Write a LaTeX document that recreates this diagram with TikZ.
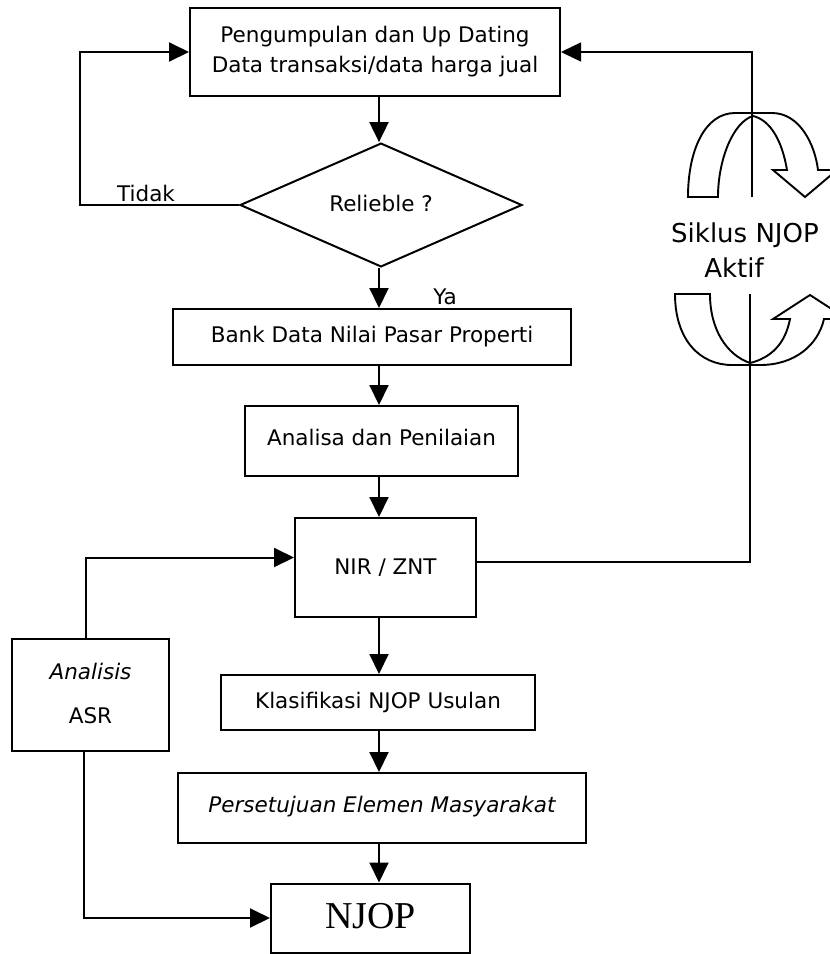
\documentclass[tikz,border=0pt]{standalone}
\usepackage{fontspec}
\setmainfont{DejaVu Sans}
\newfontfamily\njopfont{Liberation Serif}
\usetikzlibrary{arrows.meta,shapes.geometric}

\tikzset{
  box/.style={draw, line width=2pt, rectangle, inner sep=0pt, align=center,
              font=\fontsize{21.5}{30}\selectfont},
  decision/.style={draw, line width=2pt, diamond, inner sep=0pt,
              font=\fontsize{21.5}{30}\selectfont},
  arr/.style={line width=2pt, -{Triangle[length=20pt,width=19pt]}},
  thin link/.style={line width=1.4pt},
  cyclearrow/.style={line width=1.9pt, line join=miter},
  lbl/.style={inner sep=0pt, font=\fontsize{21.5}{26}\selectfont}
}

\begin{document}
\begin{tikzpicture}[x=1pt,y=-1pt]
\useasboundingbox (0,0) rectangle (830,954);

% main column of the flow
\coordinate (col) at (379,0);

\node[box, minimum width=370pt, minimum height=88pt] (collect) at (375,52)
  {Pengumpulan dan Up Dating\\Data transaksi/data harga jual};
\node[decision, minimum width=282pt, minimum height=118pt] (reliable) at (381,205)
  {\raisebox{4pt}{Relieble ?}};
\node[box, minimum width=398pt, minimum height=56pt] (bank) at (372,337)
  {Bank Data Nilai Pasar Properti};
\node[box, minimum width=273pt, minimum height=70pt] (analysis) at (381.5,441)
  {\raisebox{8pt}{Analisa dan Penilaian}};
\node[box, minimum width=181pt, minimum height=99pt] (nir) at (385.5,567.5)
  {\raisebox{-5pt}{NIR / ZNT}};
\node[box, minimum width=157pt, minimum height=112pt] (asr) at (90.5,695)
  {\raisebox{8pt}{\begin{tabular}{@{}c@{}}\itshape Analisis\\[14pt] ASR\end{tabular}}};
\node[box, minimum width=314pt, minimum height=55pt] (klas) at (378,702.5)
  {\raisebox{2pt}{Klasifikasi NJOP Usulan}};
\node[box, minimum width=408pt, minimum height=70pt] (agree) at (382,808)
  {\raisebox{8pt}{\itshape Persetujuan Elemen Masyarakat}};
\node[box, minimum width=199pt, minimum height=69pt, font=\njopfont\fontsize{38}{40}\selectfont]
  (njop) at (370.5,918) {\raisebox{5pt}{NJOP}};

% downward flow
\draw[arr] (collect.south -| col) -- (reliable.north -| col);
\draw[arr] (reliable.south -| col) -- (bank.north -| col);
\draw[arr] (bank.south -| col) -- (analysis.north -| col);
\draw[arr] (analysis.south -| col) -- (nir.north -| col);
\draw[arr] (nir.south -| col) -- (klas.north -| col);
\draw[arr] (klas.south -| col) -- (agree.north -| col);
\draw[arr] (agree.south -| col) -- (njop.north -| col);

% "Tidak" loop back to data collection
\coordinate (back) at (80,0);
\draw[arr] (reliable.west) -- (reliable.west -| back) |- (collect.west);
\node[lbl] (no) at (146,193) {Tidak};
\node[lbl] (yes) at (445,297) {Ya};

% ASR inputs
\coordinate (nirin) at ([yshift=10pt]nir.west);
\draw[arr] ([xshift=-4.5pt]asr.north) |- (nirin);
\draw[arr] ([xshift=-6.5pt]asr.south) |- (njop.west);

% active NJOP cycle on the right
\coordinate (cyclow) at (750,294);
\coordinate (cychigh) at (752,197);
\draw[thin link] ([yshift=5.5pt]nir.east) -| (cyclow);
\draw[thin link, -{Triangle[length=20pt,width=19pt]}] (cychigh) |- (collect.east);

% upper curved arrow
\draw[cyclearrow] (688,197) .. controls (688,150) and (705,113) .. (735,113)
  -- (772,113) .. controls (800,113) and (815,145) .. (818,170)
  -- (837,170) -- (805,197) -- (773,170) -- (787,170)
  .. controls (782,140) and (770,120) .. (753,116)
  .. controls (733,122) and (718,160) .. (718,197) -- cycle;

% lower curved arrow
\draw[cyclearrow] (675,294) .. controls (675,340) and (700,365) .. (732,365)
  -- (760,365) .. controls (795,365) and (818,345) .. (824,319)
  -- (847,319) -- (810,295) -- (773,319) -- (790,319)
  .. controls (785,345) and (770,358) .. (750,363)
  .. controls (727,355) and (710,330) .. (710,294) -- cycle;

\node[inner sep=0pt, align=center, font=\fontsize{26}{35}\selectfont] (cycle) at (745,250)
  {Siklus NJOP\\\hspace*{-22pt}Aktif};
\end{tikzpicture}
\end{document}
